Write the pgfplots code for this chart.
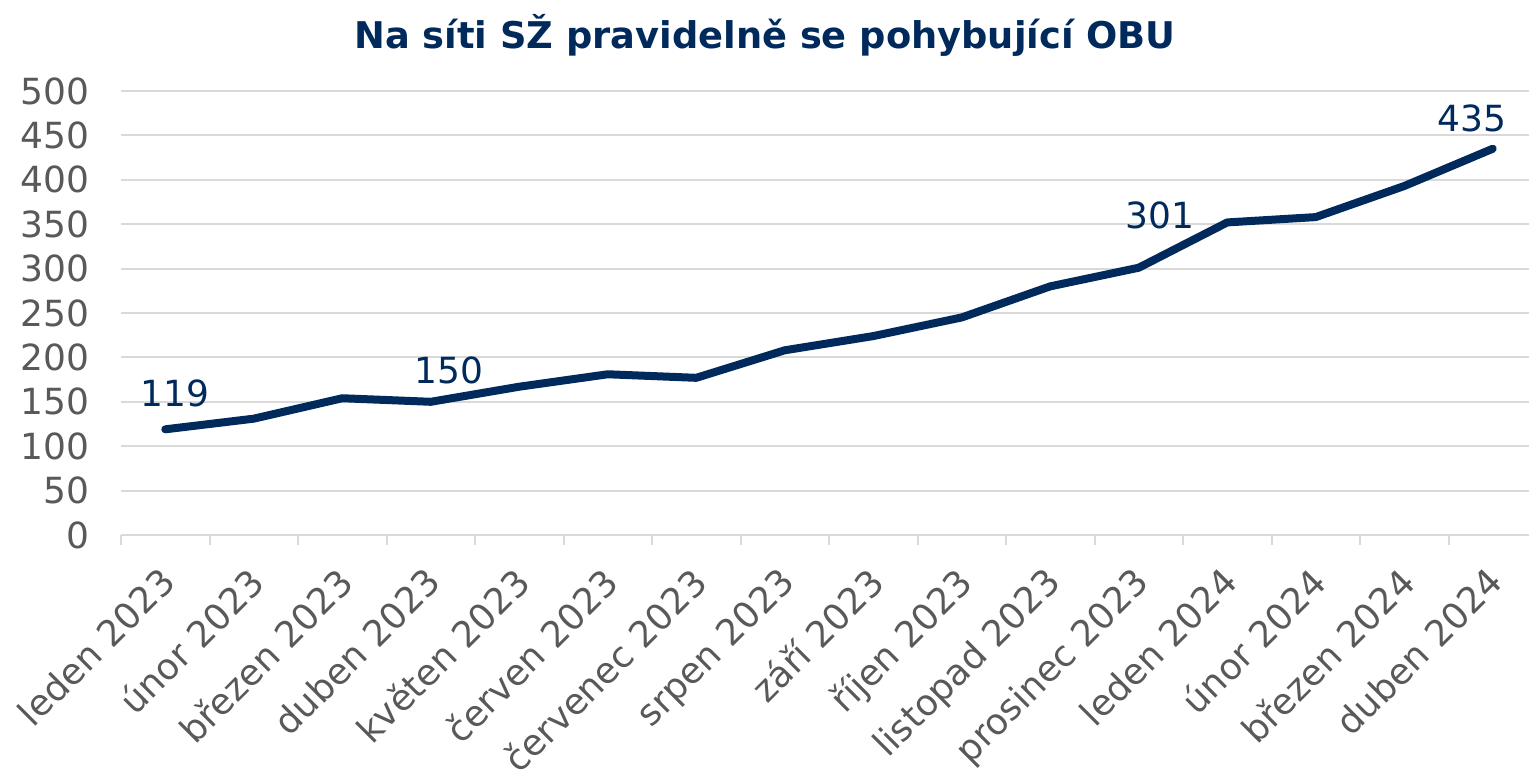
\documentclass[border=0pt]{standalone}
\usepackage{fontspec}
\setmainfont{DejaVu Sans}
\usepackage{pgfplots}
\pgfplotsset{compat=1.18}
\definecolor{navy}{RGB}{0,42,92}
\definecolor{tickgray}{RGB}{89,89,89}
\definecolor{gridgray}{RGB}{217,217,217}
\begin{document}
\begin{tikzpicture}
\path[use as bounding box] (0,0) rectangle (764.5pt,387pt);
\begin{axis}[
  at={(60.5pt,119.5pt)}, anchor=south west,
  scale only axis,
  width=708pt, height=222pt,
  xmin=-0.5, xmax=15.5,
  ymin=0, ymax=500,
  ytick={0,50,...,500},
  xtick={0,1,...,15},
  xticklabels={leden 2023,únor 2023,březen 2023,duben 2023,květen 2023,červen 2023,červenec 2023,srpen 2023,září 2023,říjen 2023,listopad 2023,prosinec 2023,leden 2024,únor 2024,březen 2024,duben 2024},
  minor xtick={-0.5,0.5,...,15.5},
  major tick length=0pt,
  minor tick length=5pt,
  tick align=outside,
  xtick pos=bottom, ytick pos=left,
  every minor tick/.style={draw=gridgray, line width=1pt},
  axis line style={draw=none},
  ymajorgrids,
  grid style={draw=gridgray, line width=1pt},
  /pgf/number format/assume math mode=true,
  ticklabel style={font=\fontsize{18}{20}\selectfont, text=tickgray},
  yticklabel style={xshift=-12.5pt},
  xticklabel style={rotate=45, anchor=north east, inner sep=2pt, xshift=-11pt, yshift=-5.9pt},
  clip=false,
]
\addplot[navy, line width=4pt, line join=round, line cap=round] coordinates {
(0,119) (1,131) (2,154) (3,150) (4,167) (5,181) (6,177) (7,208)
(8,224) (9,245) (10,280) (11,301) (12,352) (13,358) (14,393) (15,435)};
\addplot[draw=none, mark=none, nodes near coords,
  every node near coord/.append style={font=\fontsize{18}{20}\selectfont, text=navy, anchor=center, xshift=5pt, yshift=18pt},
  /pgf/number format/assume math mode=true]
 coordinates {(0,119)};
\addplot[draw=none, mark=none, nodes near coords,
  every node near coord/.append style={font=\fontsize{18}{20}\selectfont, text=navy, anchor=center, xshift=9pt, yshift=15.5pt},
  /pgf/number format/assume math mode=true]
 coordinates {(3,150)};
\addplot[draw=none, mark=none, nodes near coords,
  every node near coord/.append style={font=\fontsize{18}{20}\selectfont, text=navy, anchor=center, xshift=10.5pt, yshift=26pt},
  /pgf/number format/assume math mode=true]
 coordinates {(11,301)};
\addplot[draw=none, mark=none, nodes near coords,
  every node near coord/.append style={font=\fontsize{18}{20}\selectfont, text=navy, anchor=center, xshift=-10.5pt, yshift=15pt},
  /pgf/number format/assume math mode=true]
 coordinates {(15,435)};
\end{axis}
\node[font=\fontsize{18.4}{22}\selectfont\bfseries, text=navy] at (382.5pt,369.5pt) {Na síti SŽ pravidelně se pohybující OBU};
\end{tikzpicture}
\end{document}
